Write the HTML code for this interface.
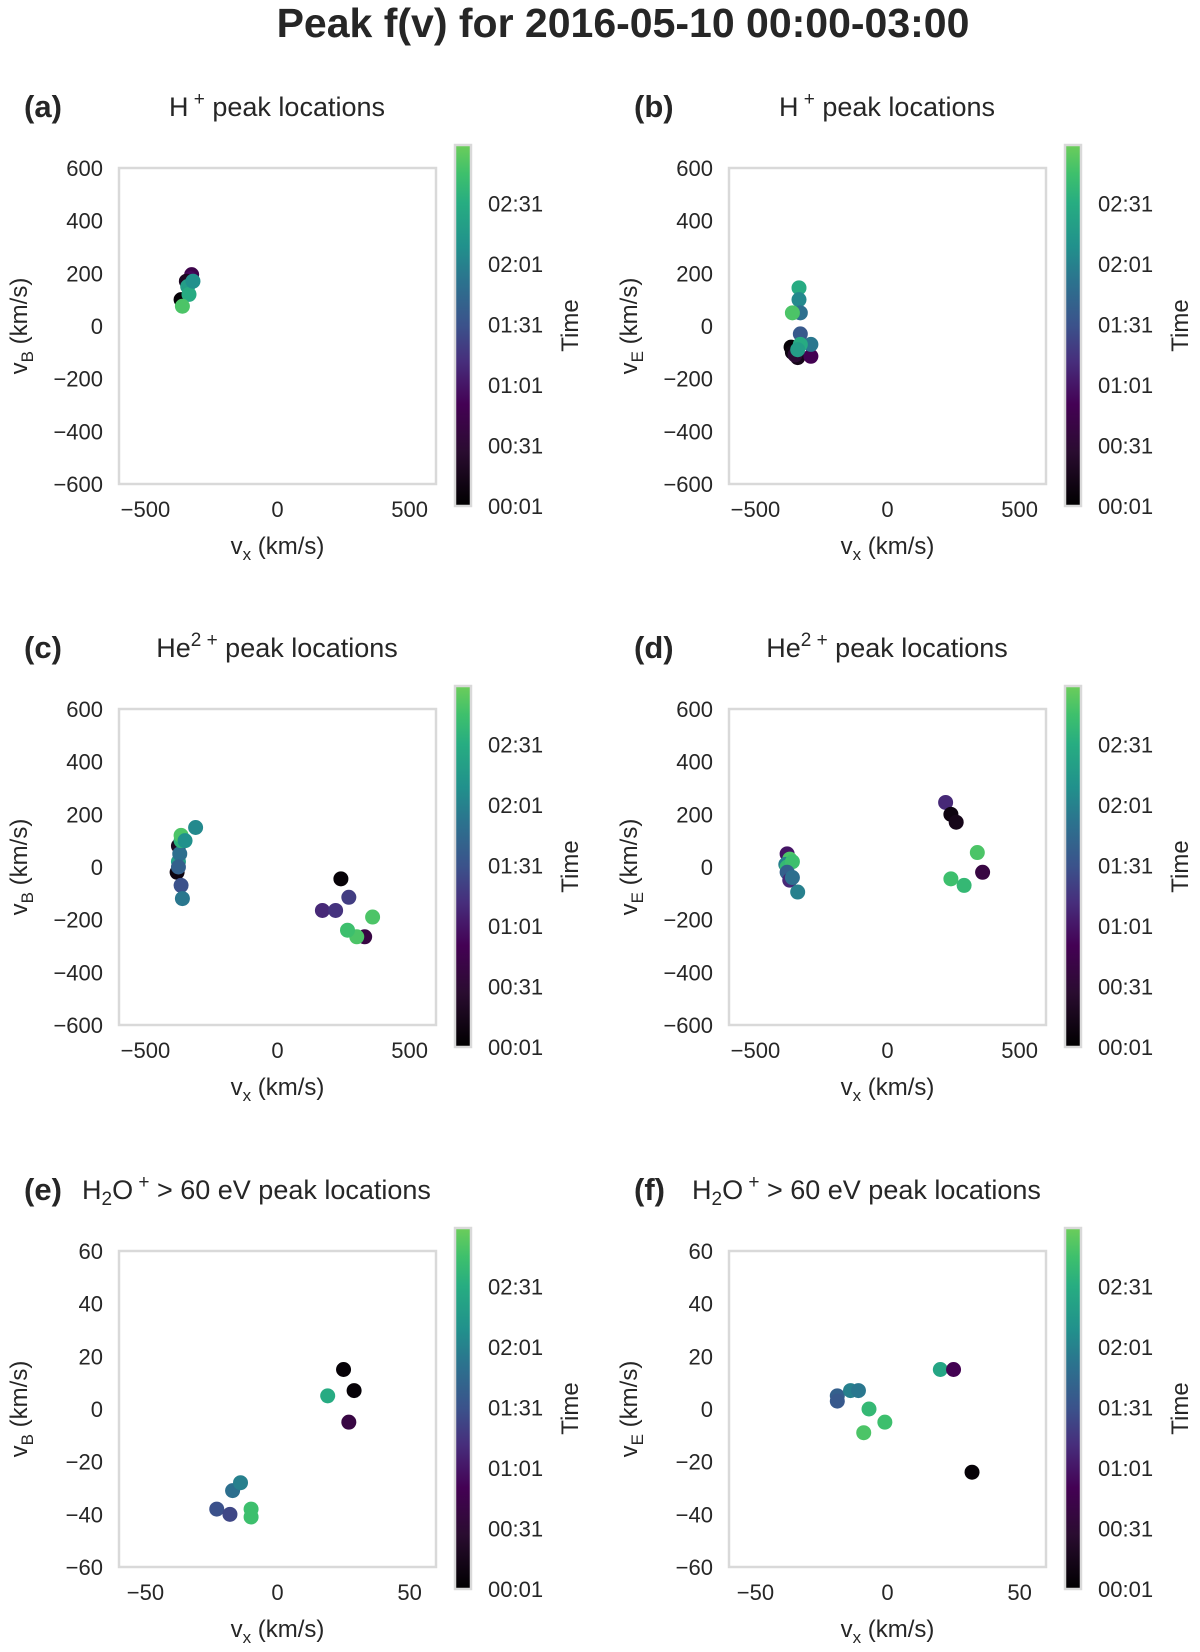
<!DOCTYPE html>
<html><head><meta charset="utf-8"><style>
html,body{margin:0;padding:0;background:#fff;}
svg{display:block;font-family:"Liberation Sans",Arial,sans-serif;}
</style></head><body>
<svg id="fig" width="1200" height="1652" viewBox="0 0 1200 1652">
<defs>
<linearGradient id="cmap" x1="0" y1="1" x2="0" y2="0">
<stop offset="0" stop-color="#000000"/><stop offset="0.15" stop-color="#2a0c30"/><stop offset="0.28" stop-color="#440154"/>
<stop offset="0.4" stop-color="#472e7c"/><stop offset="0.5" stop-color="#3b528b"/><stop offset="0.62" stop-color="#2c728e"/>
<stop offset="0.72" stop-color="#21918c"/><stop offset="0.84" stop-color="#27ad81"/><stop offset="0.92" stop-color="#3ec06c"/>
<stop offset="1" stop-color="#6ccd5a"/>
</linearGradient>
</defs>
<text x="623" y="37" text-anchor="middle" font-size="41" font-weight="bold" fill="#262626">Peak f(v) for 2016-05-10 00:00-03:00</text>
</svg>
<script>
// panel data: vx, vy, time (minutes since 00:00)
const aX=[-365,-325,-330,-345,-340,-335,-320,-360];
const aY=[100,195,180,170,150,120,170,75];
const aT=[5,45,55,20,140,150,130,170];
const bX=[-365,-360,-340,-350,-290,-290,-330,-330,-340,-335,-335,-330,-360];
const bY=[-80,-100,-120,-110,-115,-70,-30,-70,-90,145,100,50,50];
const bT=[5,10,15,30,50,115,95,150,140,150,125,110,170];
const cX=[-375,-380,-375,-370,-365,-365,-350,-310,-365,-360,-375,240,170,220,270,330,300,265,360];
const cY=[80,-20,20,50,100,120,100,150,-70,-120,0,-45,-165,-165,-115,-265,-265,-240,-190];
const cT=[20,10,140,110,155,170,130,125,90,115,100,5,70,75,80,40,170,165,170];
const dX=[-380,-370,-385,-380,-360,-380,-370,-340,-360,220,240,260,340,360,240,290];
const dY=[50,30,10,0,20,-20,-50,-95,-40,245,200,170,55,-20,-45,-70];
const dT=[60,170,120,160,165,100,70,120,110,70,10,15,170,40,165,160];
const eX=[25,29,27,19,-23,-18,-17,-14,-10,-10];
const eY=[15,7,-5,5,-38,-40,-31,-28,-38,-41];
const eT=[5,5,40,150,90,85,110,120,165,165];
const fX=[-19,-19,-14,-11,-7,-1,-9,20,25,32];
const fY=[5,3,7,7,0,-5,-9,15,15,-24];
const fT=[100,95,120,115,160,165,170,145,50,5];
const bigTicks=[-600,-400,-200,0,200,400,600];
const bigXTicks=[-500,0,500];
const smallTicks=[-60,-40,-20,0,20,40,60];
const smallXTicks=[-50,0,50];
const cbTicks=[1,31,61,91,121,151];
const cbLabels=["00:01","00:31","01:01","01:31","02:01","02:31"];

const NS="http://www.w3.org/2000/svg";
const svg=document.getElementById('fig');
function el(tag,attrs,parent,text){const e=document.createElementNS(NS,tag);for(const k in attrs)e.setAttribute(k,attrs[k]);if(text!==undefined)e.textContent=text;(parent||svg).appendChild(e);return e;}
const stops=[[0,[0,0,0]],[0.15,[42,12,48]],[0.28,[68,1,84]],[0.4,[71,46,124]],[0.5,[59,82,139]],[0.62,[44,114,142]],[0.72,[33,145,140]],[0.84,[39,173,129]],[0.92,[62,192,108]],[1,[108,205,90]]];
function cmap(v){v=Math.max(0,Math.min(1,v));for(let i=1;i<stops.length;i++){if(v<=stops[i][0]){const a=stops[i-1],b=stops[i];const f=(v-a[0])/(b[0]-a[0]);const c=a[1].map((x,j)=>Math.round(x+(b[1][j]-x)*f));return`rgb(${c[0]},${c[1]},${c[2]})`;}}return'rgb(108,205,90)';}
const tMin=1,tMax=180;

function panel(id,labelX,titleParts,titleX,anchor,bx,by,xs,ys,ts,lim,yt,xt,yName){
  const g=el('g',{}, svg);
  
  
  const W=317,H=316,cbx=bx+336,cby=by-23,cbw=16,cbh=361;
  const sx=v=>bx+(v+lim)/(2*lim)*W, sy=v=>by+H-(v+lim)/(2*lim)*H;
  const lab=el('text',{x:labelX,y:by-51,'font-size':31,'font-weight':'bold',fill:'#262626'},g,'('+id+')');
  
  const t=el('text',{x:titleX,y:by-52,'font-size':27,fill:'#262626','text-anchor':anchor},g);
  t.innerHTML=titleParts;
  
  const box=el('rect',{x:bx,y:by,width:W,height:H,fill:'#fff',stroke:'#d9d9d9','stroke-width':2.5},g);
  
  yt.forEach(v=>{const tx=el('text',{x:bx-16,y:sy(v)+8,'font-size':22,fill:'#262626','text-anchor':'end'},g,String(v).replace('-','\u2212'));
    });
  xt.forEach(v=>{const tx=el('text',{x:sx(v),y:by+H+33,'font-size':22,fill:'#262626','text-anchor':'middle'},g,String(v).replace('-','\u2212'));
    });
  const xl=el('text',{x:bx+W/2,y:by+H+70,'font-size':24,fill:'#262626','text-anchor':'middle'},g);
  xl.innerHTML='v<tspan font-size="17" dy="6">x</tspan><tspan dy="-6"> (km/s)</tspan>';
  
  const yl=el('text',{x:0,y:0,'font-size':24,fill:'#262626','text-anchor':'middle',transform:`translate(${bx-92},${by+H/2}) rotate(-90)`},g);
  yl.innerHTML='v<tspan font-size="17" dy="6">'+yName+'</tspan><tspan dy="-6"> (km/s)</tspan>';
  
  for(let i=0;i<xs.length;i++){const c=el('circle',{cx:sx(xs[i]),cy:sy(ys[i]),r:7.5,fill:cmap((ts[i]-tMin)/(tMax-tMin))},g);
    }
  const cb=el('rect',{x:cbx,y:cby,width:cbw,height:cbh,fill:'url(#cmap)',stroke:'#d9d9d9','stroke-width':2.5},g);
  
  cbTicks.forEach((v,i)=>{const yy=cby+cbh-(v-tMin)/(tMax-tMin)*cbh;
    const tx=el('text',{x:cbx+cbw+17,y:yy+8,'font-size':22,fill:'#262626'},g,cbLabels[i]);
    });
  const tl=el('text',{x:0,y:0,'font-size':24,fill:'#262626','text-anchor':'middle',transform:`translate(${cbx+cbw+107},${cby+cbh/2}) rotate(-90)`},g,'Time');
  
}
const Hp='H<tspan font-size="19" dy="-11"> +</tspan><tspan dy="11">  peak locations</tspan>';
const He='He<tspan font-size="19" dy="-11">2 +</tspan><tspan dy="11">  peak locations</tspan>';
const Hw='H<tspan font-size="19" dy="6">2</tspan><tspan dy="-6">O</tspan><tspan font-size="19" dy="-11"> +</tspan><tspan dy="11">  &gt; 60 eV peak locations</tspan>';
panel('a',24,Hp,277,'middle',119,168,aX,aY,aT,600,bigTicks,bigXTicks,'B');
panel('b',634,Hp,887,'middle',729,168,bX,bY,bT,600,bigTicks,bigXTicks,'E');
panel('c',24,He,277,'middle',119,709,cX,cY,cT,600,bigTicks,bigXTicks,'B');
panel('d',634,He,887,'middle',729,709,dX,dY,dT,600,bigTicks,bigXTicks,'E');
panel('e',24,Hw,82,'start',119,1251,eX,eY,eT,60,smallTicks,smallXTicks,'B');
panel('f',634,Hw,692,'start',729,1251,fX,fY,fT,60,smallTicks,smallXTicks,'E');
</script>
</body></html>
